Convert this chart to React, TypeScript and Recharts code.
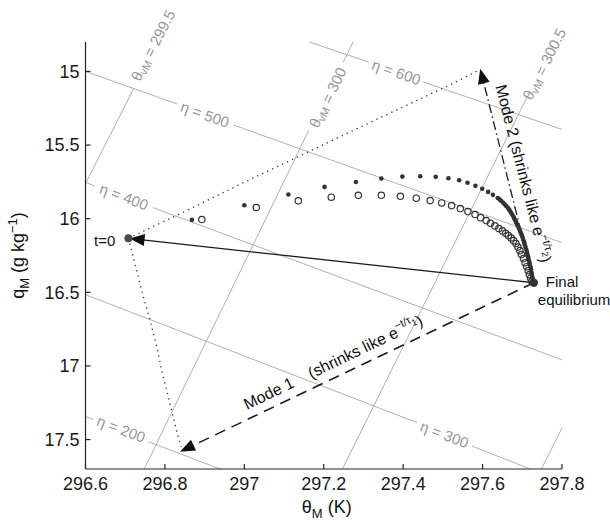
import React from "react";
import {
  ScatterChart,
  Scatter,
  XAxis,
  YAxis,
  ReferenceLine,
  ReferenceDot,
} from "recharts";

const FONT = '"Liberation Sans", Arial, Helvetica, sans-serif';
const INK = "#333333";
const GRID = "#b0b0b0";
const GRID_TEXT = "#969696";

// axes
const xTicks = [296.6, 296.8, 297, 297.2, 297.4, 297.6, 297.8];
const yTicks = [15, 15.5, 16, 16.5, 17, 17.5];
const xDomain = [296.6, 297.8];
const yDomain = [14.8, 17.7];

// trajectory samples [theta_M, q_M]
const filledPts = [
  [296.868, 16.008], [297.0, 15.909], [297.111, 15.836], [297.202, 15.784],
  [297.281, 15.751], [297.345, 15.727], [297.398, 15.714], [297.443, 15.712],
  [297.482, 15.716], [297.514, 15.725], [297.541, 15.739], [297.562, 15.756],
  [297.582, 15.777], [297.599, 15.797], [297.614, 15.818], [297.626, 15.838],
  [297.638, 15.859], [297.643, 15.869], [297.647, 15.88], [297.652, 15.892],
  [297.656, 15.904], [297.66, 15.916], [297.664, 15.928], [297.667, 15.939],
  [297.67, 15.952], [297.673, 15.965], [297.676, 15.979], [297.679, 15.993],
  [297.681, 16.006], [297.684, 16.02], [297.686, 16.033], [297.688, 16.047],
  [297.691, 16.061], [297.693, 16.074], [297.695, 16.088], [297.697, 16.101],
  [297.699, 16.115], [297.701, 16.13], [297.703, 16.146], [297.705, 16.161],
  [297.706, 16.176], [297.708, 16.193], [297.71, 16.21], [297.712, 16.227],
  [297.713, 16.244], [297.715, 16.261], [297.716, 16.278], [297.718, 16.295],
  [297.719, 16.312], [297.721, 16.329], [297.722, 16.346], [297.723, 16.363],
  [297.724, 16.38], [297.725, 16.394], [297.726, 16.408], [297.727, 16.418],
  [297.728, 16.428], [297.728, 16.435],
];
const openPts = [
  [296.893, 16.006], [297.03, 15.924], [297.136, 15.879], [297.219, 15.854],
  [297.287, 15.841], [297.345, 15.841], [297.393, 15.848], [297.433, 15.861],
  [297.468, 15.877], [297.497, 15.893], [297.522, 15.911], [297.544, 15.931],
  [297.563, 15.952], [297.581, 15.972], [297.595, 15.993], [297.609, 16.013],
  [297.62, 16.031], [297.631, 16.049], [297.641, 16.067], [297.65, 16.083],
  [297.658, 16.099], [297.665, 16.115], [297.672, 16.131], [297.678, 16.149],
  [297.684, 16.169], [297.689, 16.193], [297.694, 16.217], [297.698, 16.244],
  [297.703, 16.271], [297.707, 16.299], [297.711, 16.326], [297.715, 16.353],
  [297.718, 16.38], [297.721, 16.404], [297.724, 16.425],
];

// dotted outline from t=0 towards the two mode arrow tips
const dottedUpper = [
  [296.708, 16.133], [296.851, 15.95], [297.027, 15.717], [297.107, 15.616],
  [297.317, 15.346], [297.526, 15.081], [297.589, 14.993],
];
const dottedLower = [
  [296.708, 16.133], [296.719, 16.251], [296.729, 16.353], [296.746, 16.535],
  [296.763, 16.693], [296.78, 16.875], [296.792, 17.033], [296.809, 17.215],
  [296.821, 17.351], [296.833, 17.476], [296.841, 17.55],
];

const startPt = [296.708, 16.133];
const finalPt = [297.729, 16.435];
const solidTip = [296.711, 16.134];
const mode1Tip = [296.838, 17.582];
const mode2Tip = [297.594, 14.981];
const mode1TextAt = [297.007, 17.299];
const mode2TextAt = [297.632, 15.101];

// eta isolines, visible pieces [theta1, q1, theta2, q2] and label spots
const etaNames = ["200", "300", "400", "500", "600"];
const etaSegs = [
  [[296.6, 17.344, 296.619, 17.363], [296.758, 17.514, 296.939, 17.7]],
  [[296.6, 16.516, 297.435, 17.385], [297.573, 17.544, 297.72, 17.7]],
  [[296.6, 15.754, 296.624, 15.777], [296.771, 15.926, 297.8, 16.959]],
  [[296.6, 15.0, 296.83, 15.22], [296.973, 15.364, 297.8, 16.163]],
  [[297.164, 14.8, 297.313, 14.936], [297.451, 15.072, 297.8, 15.394]],
];
const etaLabelAt = [
  [296.69, 17.428], [297.504, 17.465], [296.697, 15.85], [296.901, 15.292], [297.383, 15.004],
];
const etaAngle = [21, 21, 20.4, 19.7, 19.1];

// theta_vM isolines
const thetaNames = ["299.5", "300", "300.5", "301"];
const thetaSegs = [
  [[296.6, 15.763, 296.721, 15.117]],
  [[296.748, 17.7, 297.162, 15.401], [297.249, 14.938, 297.274, 14.8]],
  [[297.247, 17.7, 297.712, 15.174]],
  [[297.748, 17.7, 297.8, 17.421]],
];
const thetaLabelAt = [[296.769, 14.822], [297.209, 15.176], [297.754, 14.948]];
const thetaAngle = [-62.7, -64.2, -63.6];

const toXY = (p: number[]) => ({ x: p[0], y: p[1] });
const fmt = (v: number) => String(Number(v.toFixed(1)));

const arrowShape = (dash?: string, width = 1.4) => (p: any) => {
  const { x1, y1, x2, y2 } = p;
  const dx = x2 - x1;
  const dy = y2 - y1;
  const len = Math.hypot(dx, dy) || 1;
  const ux = dx / len;
  const uy = dy / len;
  const L = 15;
  const W = 6;
  const bx = x2 - ux * L;
  const by = y2 - uy * L;
  return (
    <g>
      <line
        x1={x1}
        y1={y1}
        x2={bx + ux * 2}
        y2={by + uy * 2}
        stroke="#1a1a1a"
        strokeWidth={width}
        strokeDasharray={dash}
      />
      <polygon
        points={`${x2},${y2} ${bx - uy * W},${by + ux * W} ${bx + uy * W},${by - ux * W}`}
        fill="#111"
      />
    </g>
  );
};

const XTitle = (props: any) => {
  const vb = props.viewBox;
  return (
    <text
      x={vb.x + vb.width / 2 + 3}
      y={vb.y + 44}
      textAnchor="middle"
      fontSize={18}
      fontFamily={FONT}
      fill="#111"
    >
      θ<tspan dy={5} fontSize={13}>M</tspan>
      <tspan dy={-5}> (K)</tspan>
    </text>
  );
};

const YTitle = (props: any) => {
  const vb = props.viewBox;
  const cx = vb.x + 24;
  const cy = vb.y + vb.height / 2;
  return (
    <text
      x={cx}
      y={cy}
      transform={`rotate(-90 ${cx} ${cy})`}
      textAnchor="middle"
      fontSize={18}
      fontFamily={FONT}
      fill="#111"
    >
      q<tspan dy={5} fontSize={13}>M</tspan>
      <tspan dy={-5}> (g kg</tspan>
      <tspan dy={-7} fontSize={13}>−1</tspan>
      <tspan dy={7}>)</tspan>
    </text>
  );
};

const gridLabel = (angle: number, children: React.ReactNode) => (p: any) => (
  <text
    x={p.cx}
    y={p.cy}
    transform={`rotate(${angle} ${p.cx} ${p.cy})`}
    textAnchor="middle"
    dominantBaseline="central"
    fontSize={15}
    fontFamily={FONT}
    fill={GRID_TEXT}
    style={{ whiteSpace: "pre" }}
  >
    {children}
  </text>
);

const Hidden = () => <g />;

export default function App() {
  return (
    <>
      <style>{"body{margin:0;overflow:hidden;background:#fff}"}</style>
      <ScatterChart
        width={610}
        height={522}
        margin={{ top: 42, right: 48, bottom: 0, left: 0 }}
      >
        <XAxis
          type="number"
          dataKey="x"
          domain={xDomain}
          ticks={xTicks}
          interval={0}
          allowDataOverflow
          tickFormatter={fmt}
          tickSize={-5}
          tickMargin={13}
          height={53}
          axisLine={{ stroke: "#222", strokeWidth: 1.2 }}
          tickLine={{ stroke: "#222", strokeWidth: 1.2 }}
          tick={{ fill: "#1a1a1a", fontSize: 18, fontFamily: FONT }}
          label={XTitle}
        />
        <YAxis
          type="number"
          dataKey="y"
          domain={yDomain}
          ticks={yTicks}
          interval={0}
          reversed
          allowDataOverflow
          tickFormatter={fmt}
          tickSize={-5}
          tickMargin={11}
          width={85.5}
          axisLine={{ stroke: "#222", strokeWidth: 1.2 }}
          tickLine={{ stroke: "#222", strokeWidth: 1.2 }}
          tick={{ fill: "#1a1a1a", fontSize: 18, fontFamily: FONT }}
          label={YTitle}
        />

        {etaSegs.flatMap((segs, i) =>
          segs.map((s, j) => (
            <ReferenceLine
              key={`eta-${i}-${j}`}
              segment={[toXY([s[0], s[1]]), toXY([s[2], s[3]])]}
              stroke={GRID}
              strokeWidth={1}
              ifOverflow="visible"
            />
          ))
        )}
        {thetaSegs.flatMap((segs, i) =>
          segs.map((s, j) => (
            <ReferenceLine
              key={`th-${i}-${j}`}
              segment={[toXY([s[0], s[1]]), toXY([s[2], s[3]])]}
              stroke={GRID}
              strokeWidth={1}
              ifOverflow="visible"
            />
          ))
        )}
        {etaLabelAt.map((p, i) => (
          <ReferenceDot
            key={`etal-${i}`}
            x={p[0]}
            y={p[1]}
            ifOverflow="visible"
            shape={gridLabel(etaAngle[i], `η = ${etaNames[i]}`)}
          />
        ))}
        {thetaLabelAt.map((p, i) => (
          <ReferenceDot
            key={`thl-${i}`}
            x={p[0]}
            y={p[1]}
            ifOverflow="visible"
            shape={gridLabel(
              thetaAngle[i],
              <>
                θ
                <tspan dy={4} fontSize={11}>vM</tspan>
                <tspan dy={-4}>{` = ${thetaNames[i]}`}</tspan>
              </>
            )}
          />
        ))}

        <Scatter
          data={dottedUpper.map(toXY)}
          shape={Hidden}
          line={{ stroke: INK, strokeWidth: 1.3, strokeDasharray: "1.3 4.2" }}
          isAnimationActive={false}
        />
        <Scatter
          data={dottedLower.map(toXY)}
          shape={Hidden}
          line={{ stroke: INK, strokeWidth: 1.3, strokeDasharray: "1.3 4.2" }}
          isAnimationActive={false}
        />

        <ReferenceLine
          segment={[toXY(finalPt), toXY(solidTip)]}
          ifOverflow="visible"
          shape={arrowShape(undefined, 1.3)}
        />
        <ReferenceLine
          segment={[toXY(finalPt), toXY(mode1Tip)]}
          ifOverflow="visible"
          shape={arrowShape("11 7", 1.5)}
        />
        <ReferenceLine
          segment={[toXY(finalPt), toXY(mode2Tip)]}
          ifOverflow="visible"
          shape={arrowShape("9 3.5 1.5 3.5", 1.3)}
        />

        <Scatter
          data={filledPts.map(toXY)}
          isAnimationActive={false}
          shape={(p: any) => <circle cx={p.cx} cy={p.cy} r={2.3} fill={INK} />}
        />
        <Scatter
          data={openPts.map(toXY)}
          isAnimationActive={false}
          shape={(p: any) => (
            <circle cx={p.cx} cy={p.cy} r={3.2} fill="none" stroke={INK} strokeWidth={1.2} />
          )}
        />

        <ReferenceDot x={startPt[0]} y={startPt[1]} r={4} fill="#4a4a4a" stroke="none" ifOverflow="visible" />
        <ReferenceDot x={finalPt[0]} y={finalPt[1]} r={4.2} fill={INK} stroke="none" ifOverflow="visible" />

        <ReferenceDot
          x={startPt[0]}
          y={startPt[1]}
          ifOverflow="visible"
          shape={(p: any) => (
            <text x={p.cx - 13} y={p.cy + 8} textAnchor="end" fontSize={15} fontFamily={FONT} fill="#111">
              t=0
            </text>
          )}
        />
        <ReferenceDot
          x={finalPt[0]}
          y={finalPt[1]}
          ifOverflow="visible"
          shape={(p: any) => (
            <text fontSize={15} fontFamily={FONT} fill="#111">
              <tspan x={p.cx + 12} y={p.cy + 4}>Final</tspan>
              <tspan x={p.cx + 4} y={p.cy + 22}>equilibrium</tspan>
            </text>
          )}
        />
        <ReferenceDot
          x={mode1TextAt[0]}
          y={mode1TextAt[1]}
          ifOverflow="visible"
          shape={(p: any) => (
            <text
              x={p.cx}
              y={p.cy}
              transform={`rotate(-25.8 ${p.cx} ${p.cy})`}
              fontSize={16}
              fontFamily={FONT}
              fill="#111"
            >
              Mode 1<tspan dx={18}>(shrinks like e</tspan>
              <tspan dy={-7} fontSize={11}>−t/τ</tspan>
              <tspan dy={4} fontSize={9}>1</tspan>
              <tspan dy={3}>)</tspan>
            </text>
          )}
        />
        <ReferenceDot
          x={mode2TextAt[0]}
          y={mode2TextAt[1]}
          ifOverflow="visible"
          shape={(p: any) => (
            <text
              x={p.cx}
              y={p.cy}
              transform={`rotate(75.5 ${p.cx} ${p.cy})`}
              fontSize={16}
              fontFamily={FONT}
              fill="#111"
              style={{ whiteSpace: "pre" }}
            >
              Mode 2 (shrinks like e
              <tspan dy={-7} fontSize={11}>−t/τ</tspan>
              <tspan dy={4} fontSize={9}>2</tspan>
              <tspan dy={3}>)</tspan>
            </text>
          )}
        />
      </ScatterChart>
    </>
  );
}
